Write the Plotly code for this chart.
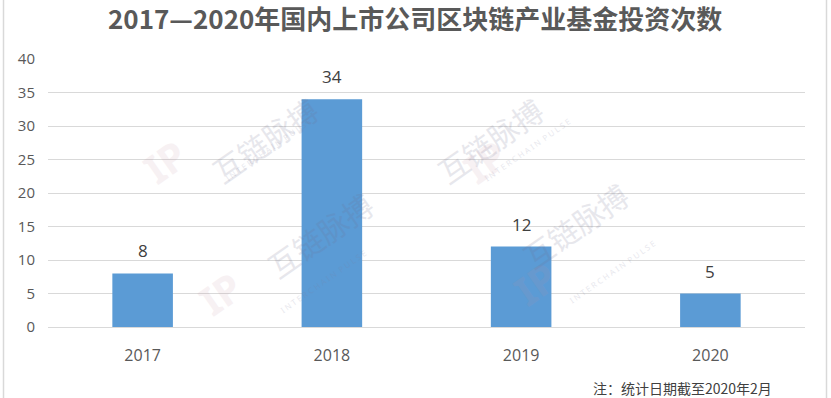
import plotly.graph_objects as go

years = ["2017", "2018", "2019", "2020"]
counts = [8, 34, 12, 5]
y_ticks = [0, 5, 10, 15, 20, 25, 30, 35, 40]
title_text = "2017—2020年国内上市公司区块链产业基金投资次数"
note_text = "注：统计日期截至2020年2月"

W, H = 831, 398
L, R, T, B = 48, 26, 59, 71
pw, ph = W - L - R, H - T - B

def px_x(x):
    return (x - L) / pw

def px_y(y):
    return (H - B - y) / ph

fig = go.Figure()
fig.add_trace(go.Bar(
    x=years, y=counts, width=0.32,
    marker=dict(color="#5B9BD5", line=dict(width=0)),
    hoverinfo="skip",
))

annotations = []
for i, v in enumerate(counts):
    annotations.append(dict(
        x=i, y=v, xref="x", yref="y", text=str(v), showarrow=False,
        yanchor="bottom", yshift=9,
        font=dict(family="Open Sans, Noto Sans CJK SC", size=17, color="#404040"),
    ))

# faint watermarks
wm = [(200, 85), (555, 85), (255, 290), (640, 280)]
for (wx, wy) in wm:
    annotations.append(dict(
        x=px_x(wx), y=px_y(wy), xref="paper", yref="paper", text="互链脉搏",
        showarrow=False, textangle=-35, opacity=0.16,
        font=dict(family="Noto Sans CJK SC", size=30, color="#6f6f8f"),
    ))
    annotations.append(dict(
        x=px_x(wx + 20), y=px_y(wy + 28), xref="paper", yref="paper",
        text="I N T E R C H A I N  P U L S E",
        showarrow=False, textangle=-35, opacity=0.18,
        font=dict(family="Noto Sans", size=8, color="#7f7f9f"),
    ))
    annotations.append(dict(
        x=px_x(wx - 70), y=px_y(wy + 40), xref="paper", yref="paper", text="<b>IP</b>",
        showarrow=False, textangle=-35, opacity=0.12,
        font=dict(family="Noto Sans", size=40, color="#c08fa0"),
    ))

annotations.append(dict(
    x=px_x(774), y=px_y(388), xref="paper", yref="paper", text=note_text,
    showarrow=False, xanchor="right", yanchor="middle",
    font=dict(family="Noto Sans CJK SC", size=14, color="#404040"),
))

# title as a paper annotation (keeps it fully inside the page)
annotations.append(dict(
    x=px_x(415), y=px_y(17), xref="paper", yref="paper",
    text="<b>" + title_text + "</b>", showarrow=False,
    xanchor="center", yanchor="middle",
    font=dict(family="Noto Sans CJK SC", size=26, color="#595959"),
))

fig.update_layout(
    width=W, height=H,
    margin=dict(l=L, r=R, t=T, b=B),
    paper_bgcolor="white", plot_bgcolor="white",
    showlegend=False,
    annotations=annotations,
    shapes=[
        dict(type="line", xref="paper", yref="paper", x0=px_x(3.5), x1=px_x(3.5),
             y0=px_y(398), y1=px_y(0), line=dict(color="#d9d9d9", width=1.5)),
        dict(type="line", xref="paper", yref="paper", x0=px_x(826.5), x1=px_x(826.5),
             y0=px_y(398), y1=px_y(0), line=dict(color="#d9d9d9", width=1.5)),
    ],
)
fig.update_xaxes(
    type="category", showgrid=False, showline=True, linecolor="#d9d9d9", linewidth=1,
    ticks="", ticklabelstandoff=14,
    tickfont=dict(family="Open Sans, Noto Sans CJK SC", size=16, color="#595959"),
)
fig.update_yaxes(
    range=[0, 40], tickvals=y_ticks, showgrid=True, gridcolor="#d9d9d9", gridwidth=1,
    zeroline=False, showline=False, ticks="", ticklabelstandoff=12,
    tickfont=dict(family="Open Sans, Noto Sans CJK SC", size=15, color="#595959"),
)
fig.write_html(
    "out.html",
    config={"displayModeBar": False},
    post_script="document.body.style.margin='0';document.body.style.padding='0';",
)
